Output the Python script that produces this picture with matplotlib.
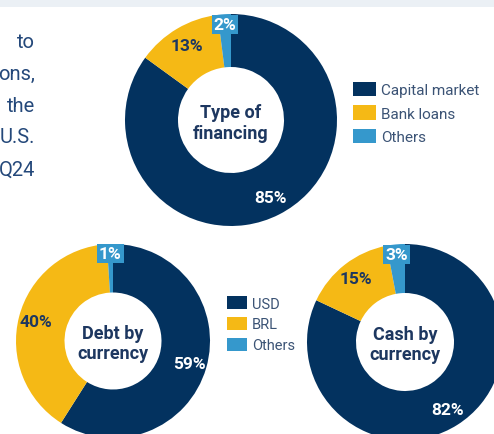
import numpy as np
import matplotlib
matplotlib.use("Agg")
import matplotlib.pyplot as plt
from matplotlib.patches import Rectangle

plt.rcParams["font.family"] = ["Roboto", "DejaVu Sans"]

# --- dados ---
fin_labels = ["Capital market", "Bank loans", "Others"]
fin_values = [85, 13, 2]

cur_labels = ["USD", "BRL", "Others"]
debt_values = [59, 40, 1]
cash_values = [82, 15, 3]

para_lines = ["to", "ons,", "the", "U.S.", "Q24"]

NAVY = "#03325f"
YELLOW = "#f5b915"
LIGHT = "#3598cc"
TEXT = "#1d3760"
LEG_TEXT = "#3b5375"
COLORS = [NAVY, YELLOW, LIGHT]

W, H = 494, 435
fig = plt.figure(figsize=(W / 100, H / 100), dpi=100)

# faixa clara no topo
fig.add_artist(Rectangle((0, 1 - 8 / H), 1, 8 / H, transform=fig.transFigure,
                         facecolor="#ebf0f5", edgecolor="none"))

# texto cortado à esquerda
for i, line in enumerate(para_lines):
    fig.text(35 / W, 1 - (42 + i * 32) / H, line, ha="right", va="center",
             fontsize=14.5, color="#24487a")


def donut(cx, cy, r, values, title):
    ax = fig.add_axes([(cx - r) / W, (H - cy - r) / H, 2 * r / W, 2 * r / H])
    wedges, _ = ax.pie(values, colors=COLORS, startangle=90, counterclock=False,
                       wedgeprops=dict(width=0.5, linewidth=0))
    ax.set_xlim(-1, 1)
    ax.set_ylim(-1, 1)
    for w, v, c in zip(wedges, values, COLORS):
        ang = np.deg2rad((w.theta1 + w.theta2) / 2)
        if v < 5:
            rr = 0.9
            ax.text(rr * np.cos(ang), rr * np.sin(ang), f"{v}%", ha="center", va="center",
                    fontsize=12.5, fontweight="bold", color="white",
                    bbox=dict(boxstyle="square,pad=0.12", facecolor=LIGHT, edgecolor="none"))
        else:
            rr = 0.82
            col = "white" if c == NAVY else TEXT
            ax.text(rr * np.cos(ang), rr * np.sin(ang), f"{v}%", ha="center", va="center",
                    fontsize=12.5, fontweight="bold", color=col)
    ax.text(0, -0.02, title, ha="center", va="center", fontsize=13,
            fontweight="bold", color=TEXT, linespacing=1.2)
    return ax, wedges


ax1, w1 = donut(231, 121, 106, fin_values, "Type of\nfinancing")
ax2, w2 = donut(113, 342, 97, debt_values, "Debt by\ncurrency")
ax3, w3 = donut(405, 343, 98, cash_values, "Cash by\ncurrency")

leg1 = fig.legend(w1, fin_labels, loc="upper left",
                  bbox_to_anchor=(353 / W, 1 - 83 / H), frameon=False,
                  fontsize=11, handlelength=1.5, handleheight=1.05,
                  handletextpad=0.35, labelspacing=0.53, borderpad=0,
                  borderaxespad=0, labelcolor=LEG_TEXT)

leg2 = fig.legend(w2, cur_labels, loc="upper left",
                  bbox_to_anchor=(227 / W, 1 - 297 / H), frameon=False,
                  fontsize=10.5, handlelength=1.37, handleheight=1.03,
                  handletextpad=0.35, labelspacing=0.42, borderpad=0,
                  borderaxespad=0, labelcolor=LEG_TEXT)

fig.savefig("out.png", dpi=100)
